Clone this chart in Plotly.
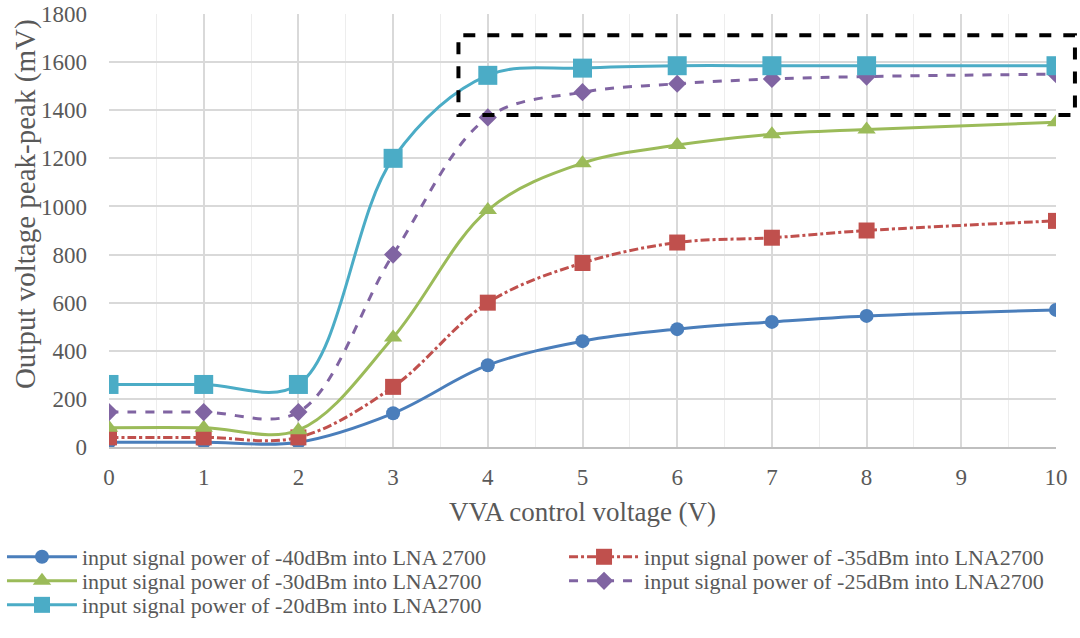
import plotly.graph_objects as go

voltage = [0, 1, 2, 3, 4, 5, 6, 7, 8, 10]
p40 = [20, 20, 20, 140, 340, 440, 490, 520, 545, 570]
p35 = [40, 40, 40, 250, 600, 765, 850, 870, 900, 940]
p30 = [80, 80, 70, 455, 985, 1180, 1255, 1300, 1320, 1350]
p25 = [145, 145, 145, 800, 1370, 1475, 1510, 1530, 1540, 1550]
p20 = [260, 260, 260, 1200, 1545, 1575, 1585, 1585, 1585, 1585]

names = [
    "input signal power of -40dBm into LNA 2700",
    "input signal power of -35dBm into LNA2700",
    "input signal power of -30dBm into LNA2700",
    "input signal power of -25dBm into LNA2700",
    "input signal power of -20dBm into LNA2700",
]
series = [p40, p35, p30, p25, p20]
colors = ["#4A7EBB", "#C0504D", "#9BBB59", "#8064A2", "#4BACC6"]
dashes = ["solid", "dashdot", "solid", "dash", "solid"]
symbols = ["circle", "square", "triangle-up", "diamond", "square"]
msizes = [14, 16, 16, 14, 19]
legend_ids = ["legend", "legend2", "legend3", "legend4", "legend5"]

x_range = [0, 10]
y_range = [0, 1800]
box_x = [3.69, 10.2]
box_y = [1380, 1712]

FONT = "Liberation Serif, Times New Roman, serif"
GRAY = "#595959"

W, H = 1080, 638
L, T = 109, 14
PW, PH = 947, 433

fig = go.Figure()
for name, ys, c, d, s, ms, lg in zip(names, series, colors, dashes, symbols, msizes, legend_ids):
    fig.add_trace(go.Scatter(
        x=voltage, y=ys, name=name, mode="lines+markers",
        line=dict(color=c, width=3, dash=d, shape="spline", smoothing=1.0),
        marker=dict(symbol=s, size=ms, color=c),
        legend=lg,
    ))

def to_paper(v, r):
    return (v - r[0]) / (r[1] - r[0])

# highlight box (extends past the right edge of the plot area, so paper-referenced)
fig.add_shape(type="rect", xref="paper", yref="paper",
              x0=to_paper(box_x[0], x_range), x1=to_paper(box_x[1], x_range),
              y0=to_paper(box_y[0], y_range), y1=to_paper(box_y[1], y_range),
              line=dict(color="black", width=4, dash="dash"))

fig.add_annotation(
    text="Output voltage peak-peak (mV)", textangle=-90,
    xref="paper", yref="paper", x=-0.0887, y=0.561,
    xanchor="center", yanchor="middle", showarrow=False,
    font=dict(size=29, family=FONT, color=GRAY),
)

def leg(x, y):
    return dict(
        orientation="v", x=x, xanchor="left", y=y, yanchor="middle",
        itemwidth=70, font=dict(size=22, family=FONT, color=GRAY),
        bgcolor="rgba(0,0,0,0)",
    )

col1, col2 = -0.113, 0.4805
row1, row2, row3 = -0.254, -0.3095, -0.365

fig.update_layout(
    width=W, height=H,
    margin=dict(l=L, r=W - L - PW, t=T, b=H - T - PH, autoexpand=False),
    paper_bgcolor="white", plot_bgcolor="white",
    font=dict(family=FONT, color=GRAY, size=21),
    xaxis=dict(
        range=x_range, dtick=1, tick0=0,
        showgrid=True, gridcolor="#D9D9D9", gridwidth=1.5,
        minor=dict(dtick=0.5, showgrid=True, gridcolor="#EDEDED", gridwidth=1),
        showline=True, linecolor="#BFBFBF", linewidth=2,
        zeroline=False, ticks="", ticklabelstandoff=8,
        ticklabeloverflow="allow",
        tickfont=dict(size=23, family=FONT, color=GRAY),
        title=dict(text="VVA control voltage (V)", font=dict(size=27, family=FONT, color=GRAY), standoff=14),
    ),
    yaxis=dict(
        range=y_range, dtick=200, tick0=0,
        showgrid=True, gridcolor="#D9D9D9", gridwidth=1.5,
        showline=False, zeroline=False, ticks="", ticklabelstandoff=21,
        ticklabeloverflow="allow",
        tickfont=dict(size=23, family=FONT, color=GRAY),
    ),
    legend=leg(col1, row1),
    legend2=leg(col2, row1),
    legend3=leg(col1, row2),
    legend4=leg(col2, row2),
    legend5=leg(col1, row3),
    showlegend=True,
)

fig.write_html(
    "out.html",
    config={"displayModeBar": False},
    post_script="document.body.style.margin='0';document.body.style.padding='0';",
)
